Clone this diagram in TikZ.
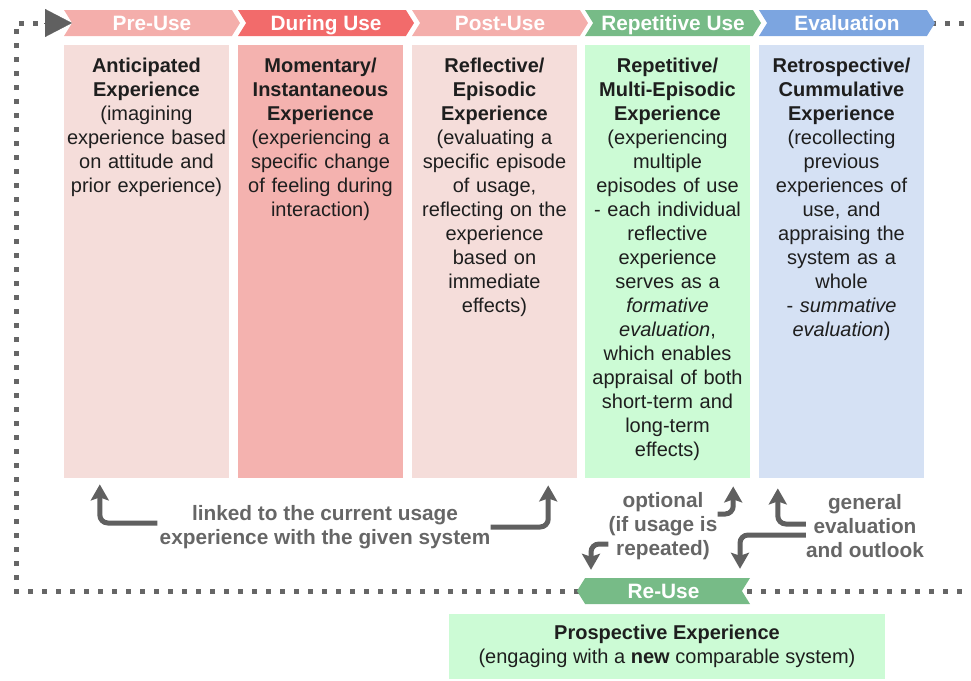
\documentclass[tikz,border=0pt]{standalone}
\usepackage{fontspec}
\setmainfont{Liberation Sans}
\usetikzlibrary{shapes.symbols,arrows.meta,positioning}

\definecolor{preHead}{RGB}{244,174,171}
\definecolor{preBox}{RGB}{245,221,218}
\definecolor{durHead}{RGB}{242,107,107}
\definecolor{durBox}{RGB}{244,178,175}
\definecolor{repHead}{RGB}{119,187,135}
\definecolor{repBox}{RGB}{204,251,213}
\definecolor{evalHead}{RGB}{124,165,224}
\definecolor{evalBox}{RGB}{213,225,244}
\definecolor{textBlack}{RGB}{30,30,30}
\definecolor{noteGray}{RGB}{102,102,102}
\definecolor{arrowGray}{RGB}{96,96,96}

\tikzset{
  head/.style={signal, signal to=east, signal from=west, signal pointer angle=116,
    minimum width=176pt, minimum height=26pt, inner sep=0pt, text=white,
    text height=15pt, text depth=0pt,
    font=\fontsize{20.8}{22}\selectfont\bfseries},
  column/.style={rectangle, minimum width=165pt, minimum height=433pt, inner sep=0pt, anchor=north},
  coltext/.style={text width=165pt, align=center, inner sep=0pt, anchor=north,
    text=textBlack, font=\fontsize{20}{24}\selectfont},
  note/.style={align=center, inner sep=0pt, text=noteGray, font=\fontsize{20.8}{24}\selectfont\bfseries},
  dots/.style={line width=5pt, dash pattern=on 5pt off 9pt, draw=noteGray},
  garrow/.style={line width=5pt, draw=arrowGray, rounded corners=8pt,
    -{Stealth[length=16pt,width=18pt,inset=3pt]}},
}

\begin{document}
\begin{tikzpicture}[x=1pt,y=-1pt]
  \useasboundingbox (0,0) rectangle (971,680);

  %% dotted loop
  \coordinate (loopTL) at (16,23);
  \coordinate (loopBL) at (16,591);
  \coordinate (loopIn) at (72,23);
  \coordinate (loopOut) at (971,23);
  \coordinate (loopEnd) at (971,591);
  \draw[dots] (663,591) -- (loopBL) -- (loopTL) -- (50,23);
  \draw[dots] (847,23) -- (loopOut);
  \draw[dots] (663,591) -- (loopEnd);
  \draw[arrowGray, line width=0.2pt, -{Triangle[length=27pt,width=28pt]}] (44,23) -- (loopIn);

  %% phases
  \node[head, fill=preHead] (hPre) at (152,23) {Pre-Use};
  \node[head, fill=durHead] (hDur) at (326,23) {During Use};
  \node[head, fill=preHead] (hPost) at (500,23) {Post-Use};
  \node[head, fill=repHead] (hRep) at (673,23) {Repetitive Use};
  \node[head, fill=evalHead] (hEval) at (847,23) {Evaluation};

  %% columns
  \node[column, fill=preBox] (cPre) at (146.5,45) {};
  \node[column, fill=durBox] (cDur) at (320.5,45) {};
  \node[column, fill=preBox] (cPost) at (494.5,45) {};
  \node[column, fill=repBox] (cRep) at (667.5,45) {};
  \node[column, fill=evalBox] (cEval) at (841.5,45) {};

  \node[coltext] (tPre) at (146.5,57.5) {\textbf{Anticipated\\Experience}\\(imagining\\experience based\\on attitude and\\prior experience)};
  \node[coltext] (tDur) at (320.5,57.5) {\textbf{Momentary/\\Instantaneous\\Experience}\\(experiencing a\\specific change\\of feeling during\\interaction)};
  \node[coltext] (tPost) at (494.5,57.5) {\textbf{Reflective/\\Episodic\\Experience}\\(evaluating a\\specific episode\\of usage,\\reflecting on the\\experience\\based on\\immediate\\effects)};
  \node[coltext] (tRep) at (667.5,57.5) {\textbf{Repetitive/\\Multi-Episodic\\Experience}\\(experiencing\\multiple\\episodes of use\\- each individual\\reflective\\experience\\serves as a\\\textit{formative}\\\textit{evaluation},\\which enables\\appraisal of both\\short-term and\\long-term\\effects)};
  \node[coltext] (tEval) at (841.5,57.5) {\textbf{Retrospective/\\Cummulative\\Experience}\\(recollecting\\previous\\experiences of\\use, and\\appraising the\\system as a\\whole\\- \textit{summative}\\\textit{evaluation})};

  %% re-use
  \node[head, signal to=west, signal from=east, minimum width=173pt, fill=repHead] (hReUse) at (663.5,591) {Re-Use};
  \node[rectangle, fill=repBox, minimum width=436pt, minimum height=65pt, inner sep=0pt,
    align=center, text=textBlack, font=\fontsize{20}{24}\selectfont] (prosp) at (667,646.5)
    {\textbf{Prospective Experience}\\(engaging with a \textbf{new} comparable system)};

  %% notes
  \node[note] (linked) at (325,527) {linked to the current usage\\experience with the given system};
  \node[note] (optional) at (663,526) {optional\\(if usage is\\repeated)};
  \node[note] (general) at (865,526) {general\\evaluation\\and outlook};

  \draw[garrow] ([xshift=-2pt,yshift=4pt]linked.west) -| ([xshift=36pt,yshift=-6pt]cPre.south west);
  \draw[garrow] (linked.east) -| ([xshift=-29pt,yshift=-7pt]cPost.south east);
  \draw[garrow] ([yshift=12pt]optional.east) -| ([xshift=-17pt,yshift=-8pt]cRep.south east);
  \draw[garrow] ([yshift=-18pt]optional.west) -| ([xshift=-72.5pt,yshift=8pt]hReUse.north);
  \draw[garrow] ([yshift=2pt]general.west) -| ([xshift=19pt,yshift=-10pt]cEval.south west);
  \draw[garrow] ([yshift=-9pt]general.west) -| ([xshift=76.5pt,yshift=9pt]hReUse.north);
\end{tikzpicture}
\end{document}
